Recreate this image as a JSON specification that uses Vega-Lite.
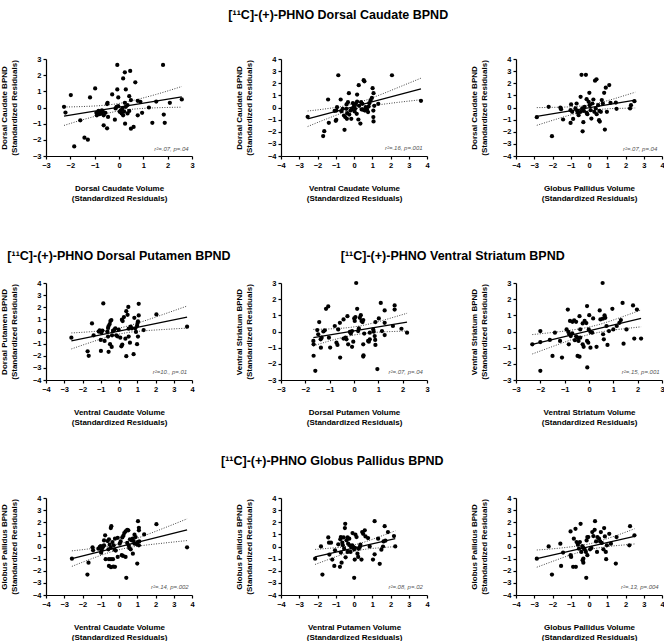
{
"$schema":"https://vega.github.io/schema/vega-lite/v6.json",
"padding":{"left":0,"top":8,"right":0,"bottom":0},
"config":{"view":{"stroke":null},"font":"Liberation Sans",
"axis":{"grid":false,"domainColor":"#000","tickColor":"#000","tickSize":3,"domainWidth":1.2,"tickWidth":1.2,"labelFont":"Liberation Sans","labelFontWeight":"bold","labelFontSize":7.5,"labelColor":"#000","labelPadding":2,"labelFlush":false,"labelOverlap":false,"titleFont":"Liberation Sans","titleFontWeight":"bold","titleFontSize":8,"titleColor":"#000","titleLineHeight":10},
"axisX":{"titlePadding":16},"axisY":{"titlePadding":14},
"title":{"font":"Liberation Sans","fontSize":12.5,"fontWeight":"bold","color":"#000","anchor":"middle"},
"concat":{"spacing":89}},
"datasets":{
"p1":[{"x":-2.26,"y":0.04},{"x":-2.2,"y":-0.31},{"x":-1.98,"y":0.77},{"x":-1.84,"y":-2.41},{"x":-1.59,"y":-0.79},{"x":-1.42,"y":-1.87},{"x":-1.28,"y":-1.99},{"x":-1.19,"y":0.62},{"x":-0.98,"y":1.18},{"x":-0.93,"y":-0.33},{"x":-0.84,"y":-0.21},{"x":-0.77,"y":-0.27},{"x":-0.73,"y":-0.37},{"x":-0.7,"y":-0.17},{"x":-0.66,"y":-0.27},{"x":-0.63,"y":-0.48},{"x":-0.91,"y":-0.48},{"x":-0.81,"y":-0.41},{"x":-0.56,"y":-0.33},{"x":-0.49,"y":0.21},{"x":-0.47,"y":0.29},{"x":-0.45,"y":-0.58},{"x":-0.63,"y":-1.1},{"x":-0.49,"y":-1.29},{"x":-0.28,"y":0.81},{"x":-0.17,"y":-0.75},{"x":-0.07,"y":2.63},{"x":-0.07,"y":1.12},{"x":-0.03,"y":0.62},{"x":-0.1,"y":0.04},{"x":-0.14,"y":-0.06},{"x":-0.03,"y":0.08},{"x":0.03,"y":-0.27},{"x":0.07,"y":-0.17},{"x":0.11,"y":-0.37},{"x":0.14,"y":-0.06},{"x":0.21,"y":-0.25},{"x":0.17,"y":-0.48},{"x":0.28,"y":0.04},{"x":0.35,"y":0.15},{"x":0.17,"y":1.8},{"x":0.24,"y":2.18},{"x":0.46,"y":2.26},{"x":0.28,"y":1.12},{"x":0.24,"y":0.29},{"x":0.42,"y":0.7},{"x":0.49,"y":0.46},{"x":0.25,"y":-1.0},{"x":0.35,"y":-0.37},{"x":0.42,"y":-0.21},{"x":0.49,"y":-1.31},{"x":0.6,"y":-1.2},{"x":0.67,"y":1.56},{"x":0.77,"y":-0.48},{"x":0.77,"y":0.41},{"x":0.88,"y":0.35},{"x":0.95,"y":-0.33},{"x":1.23,"y":0},{"x":1.37,"y":-0.95},{"x":1.53,"y":0.37},{"x":1.81,"y":2.63},{"x":1.84,"y":-0.44},{"x":1.88,"y":-0.95},{"x":2.09,"y":0.29},{"x":2.58,"y":0.5}],
"p2":[{"x":-2.54,"y":-0.77},{"x":-1.69,"y":-2.36},{"x":-1.63,"y":-1.95},{"x":-1.42,"y":0.66},{"x":-1.38,"y":-1.26},{"x":-1.06,"y":-0.27},{"x":-0.97,"y":-0.25},{"x":-0.97,"y":-1.01},{"x":-1.0,"y":-1.1},{"x":-0.93,"y":0.03},{"x":-0.86,"y":2.66},{"x":-0.73,"y":0.66},{"x":-0.69,"y":-0.3},{"x":-0.62,"y":-0.11},{"x":-0.55,"y":-0.66},{"x":-0.48,"y":-0.79},{"x":-0.52,"y":-1.84},{"x":-0.42,"y":-0.11},{"x":-0.41,"y":0.25},{"x":-0.33,"y":0.44},{"x":-0.28,"y":1.18},{"x":-0.37,"y":-0.47},{"x":-0.26,"y":-0.58},{"x":-0.19,"y":-0.25},{"x":-0.15,"y":-0.93},{"x":-0.39,"y":-0.93},{"x":-0.06,"y":0.36},{"x":-0.12,"y":-0.16},{"x":-0.01,"y":0.08},{"x":0.03,"y":-0.33},{"x":0.06,"y":-0.11},{"x":0.1,"y":0.3},{"x":0.15,"y":-0.52},{"x":0.17,"y":0.49},{"x":0.17,"y":1.07},{"x":0.24,"y":-0.99},{"x":0.28,"y":0.14},{"x":0.35,"y":-1.32},{"x":0.26,"y":1.84},{"x":0.53,"y":2.25},{"x":0.57,"y":2.16},{"x":0.39,"y":0.44},{"x":0.42,"y":-0.16},{"x":0.46,"y":0.3},{"x":0.51,"y":-0.19},{"x":0.6,"y":-0.25},{"x":0.64,"y":0.03},{"x":0.71,"y":-0.16},{"x":0.77,"y":-0.38},{"x":0.8,"y":0.08},{"x":0.84,"y":0.36},{"x":0.91,"y":0.58},{"x":0.98,"y":0.79},{"x":1.02,"y":1.59},{"x":1.07,"y":1.18},{"x":1.07,"y":-1.15},{"x":1.06,"y":-0.25},{"x":1.11,"y":0.14},{"x":1.06,"y":-0.79},{"x":1.33,"y":0.3},{"x":2.08,"y":2.66},{"x":3.67,"y":0.55}],
"p3":[{"x":-2.86,"y":-0.8},{"x":-2.21,"y":0.06},{"x":-2.03,"y":-2.37},{"x":-1.57,"y":0},{"x":-1.53,"y":-0.14},{"x":-1.42,"y":-0.99},{"x":-1.01,"y":-1.27},{"x":-0.98,"y":0.25},{"x":-1.01,"y":-0.22},{"x":-0.92,"y":-0.36},{"x":-0.87,"y":-0.94},{"x":-0.74,"y":-0.08},{"x":-0.65,"y":-0.28},{"x":-0.61,"y":-0.44},{"x":-0.68,"y":0.33},{"x":-0.57,"y":-0.63},{"x":-0.46,"y":0.88},{"x":-0.41,"y":2.7},{"x":-0.17,"y":2.7},{"x":-0.35,"y":-1.96},{"x":-0.31,"y":-1.21},{"x":-0.46,"y":-0.36},{"x":-0.37,"y":-0.08},{"x":-0.28,"y":-0.28},{"x":-0.24,"y":0.06},{"x":-0.13,"y":-0.44},{"x":-0.09,"y":-0.55},{"x":-0.13,"y":0.69},{"x":0.02,"y":1.21},{"x":-0.02,"y":0.47},{"x":0.04,"y":0.19},{"x":0.13,"y":-0.91},{"x":0.09,"y":-0.22},{"x":0.18,"y":0.33},{"x":0.24,"y":0.66},{"x":0.33,"y":2.21},{"x":0.41,"y":2.32},{"x":0.29,"y":-0.36},{"x":0.37,"y":-0.08},{"x":0.42,"y":-0.55},{"x":0.5,"y":0.19},{"x":0.57,"y":-0.28},{"x":0.55,"y":-1.05},{"x":0.59,"y":-1.16},{"x":0.65,"y":-0.36},{"x":0.7,"y":0.61},{"x":0.76,"y":0.33},{"x":0.83,"y":1.21},{"x":0.87,"y":-1.82},{"x":0.92,"y":1.63},{"x":0.98,"y":-0.36},{"x":1.11,"y":1.85},{"x":1.18,"y":0.39},{"x":1.47,"y":0.41},{"x":1.51,"y":-0.11},{"x":2.25,"y":-0.08},{"x":2.3,"y":0.19},{"x":2.49,"y":0.52}],
"p4":[{"x":-2.61,"y":-0.51},{"x":-1.72,"y":-1.63},{"x":-1.66,"y":-2.01},{"x":-1.48,"y":0.67},{"x":-1.39,"y":-0.31},{"x":-1.11,"y":-0.01},{"x":-1.06,"y":0.1},{"x":-0.97,"y":-0.1},{"x":-0.91,"y":0.07},{"x":-1.0,"y":-0.7},{"x":-0.99,"y":-1.6},{"x":-0.86,"y":2.31},{"x":-0.79,"y":-0.78},{"x":-0.64,"y":-0.01},{"x":-0.6,"y":0.29},{"x":-0.57,"y":0.45},{"x":-0.51,"y":0.61},{"x":-0.47,"y":0.86},{"x":-0.6,"y":-0.42},{"x":-0.57,"y":-1.68},{"x":-0.49,"y":-1.05},{"x":-0.4,"y":-1.27},{"x":-0.42,"y":0.94},{"x":-0.38,"y":-0.31},{"x":-0.33,"y":0.04},{"x":-0.26,"y":0.15},{"x":-0.2,"y":0.26},{"x":-0.15,"y":-0.31},{"x":-0.09,"y":-0.4},{"x":-0.02,"y":0.15},{"x":0.07,"y":-0.51},{"x":0.13,"y":-1.22},{"x":0.18,"y":-1.08},{"x":0.16,"y":0.97},{"x":0.2,"y":0.86},{"x":0.27,"y":1.19},{"x":0.35,"y":-0.59},{"x":0.4,"y":1.68},{"x":0.4,"y":-2.04},{"x":0.47,"y":1.38},{"x":0.51,"y":2.03},{"x":0.53,"y":0.23},{"x":0.53,"y":-0.42},{"x":0.6,"y":-0.92},{"x":0.64,"y":0.4},{"x":0.71,"y":0.26},{"x":0.8,"y":-1.87},{"x":0.89,"y":0.26},{"x":0.93,"y":-0.04},{"x":0.99,"y":0.48},{"x":1.02,"y":0.7},{"x":1.04,"y":0.83},{"x":1.08,"y":1.32},{"x":1.08,"y":2.28},{"x":1.04,"y":-0.42},{"x":0.99,"y":-1.05},{"x":0.84,"y":1.13},{"x":1.35,"y":0.12},{"x":2.05,"y":1.41},{"x":3.73,"y":0.4}],
"p5":[{"x":-1.67,"y":-0.58},{"x":-1.66,"y":-0.79},{"x":-1.66,"y":-1.5},{"x":-1.59,"y":-2.43},{"x":-1.51,"y":0.09},{"x":-1.47,"y":-0.17},{"x":-1.43,"y":0.58},{"x":-1.37,"y":-0.48},{"x":-1.33,"y":-0.38},{"x":-1.36,"y":-1.0},{"x":-1.26,"y":0},{"x":-1.2,"y":0.07},{"x":-1.15,"y":1.4},{"x":-1.06,"y":1.55},{"x":-1.03,"y":-0.38},{"x":-0.98,"y":-0.99},{"x":-0.79,"y":0.34},{"x":-0.72,"y":-0.69},{"x":-0.68,"y":-0.83},{"x":-0.65,"y":0.13},{"x":-0.58,"y":0.54},{"x":-0.57,"y":-1.61},{"x":-0.43,"y":0.75},{"x":-0.43,"y":-0.44},{"x":-0.35,"y":-0.38},{"x":-0.31,"y":-0.48},{"x":-0.27,"y":0.95},{"x":-0.24,"y":-0.79},{"x":-0.17,"y":-0.03},{"x":-0.13,"y":-0.13},{"x":-0.08,"y":0.03},{"x":-0.08,"y":-0.95},{"x":-0.03,"y":-0.63},{"x":0.01,"y":0.81},{"x":0.03,"y":0.65},{"x":0.06,"y":0.89},{"x":0.09,"y":3.0},{"x":0.13,"y":1.4},{"x":0.17,"y":0.03},{"x":0.2,"y":0.19},{"x":0.24,"y":0.85},{"x":0.28,"y":1.01},{"x":0.31,"y":0.65},{"x":0.35,"y":0.58},{"x":0.38,"y":0.71},{"x":0.38,"y":-0.79},{"x":0.39,"y":-1.47},{"x":0.38,"y":-1.55},{"x":0.42,"y":-0.13},{"x":0.58,"y":-0.58},{"x":0.65,"y":-0.48},{"x":0.61,"y":-0.63},{"x":0.65,"y":-0.07},{"x":0.79,"y":0.13},{"x":0.81,"y":-0.01},{"x":0.85,"y":-0.28},{"x":0.87,"y":-0.52},{"x":0.88,"y":-0.83},{"x":0.88,"y":0.58},{"x":0.96,"y":-2.32},{"x":1.02,"y":0.81},{"x":1.1,"y":1.77},{"x":1.15,"y":0.03},{"x":1.26,"y":1.3},{"x":1.26,"y":0.54},{"x":1.26,"y":-0.22},{"x":1.6,"y":0.34},{"x":1.67,"y":1.61},{"x":1.67,"y":1.36},{"x":1.95,"y":0.17},{"x":2.18,"y":-0.07}],
"p6":[{"x":-2.33,"y":-0.79},{"x":-2.0,"y":0.03},{"x":-2.0,"y":-0.65},{"x":-2.0,"y":-2.43},{"x":-1.61,"y":-0.52},{"x":-1.5,"y":-1.51},{"x":-1.4,"y":-0.07},{"x":-1.19,"y":-0.58},{"x":-1.11,"y":-1.61},{"x":-0.87,"y":1.36},{"x":-0.92,"y":0.13},{"x":-0.85,"y":-0.03},{"x":-0.81,"y":-0.17},{"x":-0.75,"y":-0.28},{"x":-0.69,"y":-0.11},{"x":-0.83,"y":-0.79},{"x":-0.78,"y":0.65},{"x":-0.68,"y":0.6},{"x":-0.61,"y":0.69},{"x":-0.53,"y":0.6},{"x":-0.58,"y":-0.54},{"x":-0.53,"y":-0.3},{"x":-0.46,"y":-0.38},{"x":-0.43,"y":-0.58},{"x":-0.36,"y":-0.38},{"x":-0.47,"y":-1.51},{"x":-0.39,"y":-1.56},{"x":-0.39,"y":0.95},{"x":-0.36,"y":0.13},{"x":-0.26,"y":0.5},{"x":-0.26,"y":-0.79},{"x":-0.22,"y":-0.95},{"x":-0.18,"y":0.65},{"x":-0.11,"y":0.52},{"x":-0.08,"y":1.57},{"x":-0.08,"y":-0.58},{"x":-0.03,"y":-0.69},{"x":-0.07,"y":-2.22},{"x":-0.01,"y":0.13},{"x":0.01,"y":1.01},{"x":0.06,"y":-0.03},{"x":0.13,"y":-0.07},{"x":0.17,"y":0.81},{"x":0.06,"y":-1.0},{"x":0.31,"y":-0.95},{"x":0.44,"y":1.3},{"x":0.47,"y":0.75},{"x":0.57,"y":0.79},{"x":0.56,"y":3.0},{"x":0.58,"y":-0.17},{"x":0.61,"y":-0.48},{"x":0.64,"y":1.0},{"x":0.67,"y":0.85},{"x":0.72,"y":0.34},{"x":0.76,"y":-0.83},{"x":0.82,"y":0.03},{"x":0.96,"y":1.4},{"x":1.0,"y":0.13},{"x":1.14,"y":0.34},{"x":1.25,"y":0.54},{"x":1.31,"y":0.71},{"x":1.38,"y":1.77},{"x":1.42,"y":-0.75},{"x":1.54,"y":0.13},{"x":1.81,"y":1.61},{"x":1.86,"y":-0.44},{"x":1.97,"y":1.36},{"x":2.14,"y":-0.44}],
"p7":[{"x":-2.58,"y":-1.0},{"x":-1.67,"y":-1.33},{"x":-1.73,"y":-2.31},{"x":-1.45,"y":-0.07},{"x":-1.42,"y":-0.31},{"x":-1.13,"y":-0.18},{"x":-1.05,"y":-0.04},{"x":-1.0,"y":0.04},{"x":-0.95,"y":-0.31},{"x":-0.98,"y":-0.51},{"x":-0.91,"y":-0.12},{"x":-0.85,"y":0.04},{"x":-0.82,"y":0.5},{"x":-0.82,"y":0.1},{"x":-0.76,"y":0.92},{"x":-0.73,"y":-1.05},{"x":-0.62,"y":0.45},{"x":-0.55,"y":0.59},{"x":-0.58,"y":-0.23},{"x":-0.55,"y":-1.05},{"x":-0.44,"y":-1.05},{"x":-0.33,"y":-1.05},{"x":-0.55,"y":-1.6},{"x":-0.44,"y":-1.71},{"x":-0.31,"y":-1.65},{"x":-0.22,"y":-1.68},{"x":-0.45,"y":1.52},{"x":-0.42,"y":1.68},{"x":-0.51,"y":0.15},{"x":-0.45,"y":-0.12},{"x":-0.36,"y":0.37},{"x":-0.29,"y":0.1},{"x":-0.25,"y":-0.26},{"x":-0.22,"y":0.64},{"x":-0.18,"y":-0.34},{"x":-0.07,"y":0.72},{"x":-0.07,"y":-0.86},{"x":0.04,"y":0.23},{"x":0.09,"y":0.42},{"x":0.15,"y":-0.72},{"x":0.22,"y":-0.78},{"x":0.18,"y":0.75},{"x":0.24,"y":0.89},{"x":0.29,"y":1.11},{"x":0.36,"y":1.24},{"x":0.45,"y":1.38},{"x":0.51,"y":1.33},{"x":0.36,"y":-0.86},{"x":0.4,"y":-2.58},{"x":0.45,"y":0.29},{"x":0.53,"y":0.1},{"x":0.56,"y":-0.12},{"x":0.6,"y":0.59},{"x":0.64,"y":-0.23},{"x":0.69,"y":0.51},{"x":0.75,"y":0.64},{"x":0.8,"y":0.45},{"x":0.85,"y":0.23},{"x":0.76,"y":-0.59},{"x":0.85,"y":0.97},{"x":0.91,"y":0.78},{"x":0.98,"y":0.18},{"x":1.02,"y":0.37},{"x":1.0,"y":-1.41},{"x":1.04,"y":2.09},{"x":1.09,"y":1.54},{"x":1.09,"y":1.33},{"x":1.11,"y":0.42},{"x":1.09,"y":0.1},{"x":1.38,"y":1.0},{"x":2.05,"y":1.84},{"x":3.73,"y":-0.07}],
"p8":[{"x":-2.13,"y":-1.0},{"x":-1.81,"y":0.01},{"x":-1.73,"y":-2.31},{"x":-1.41,"y":0.75},{"x":-1.37,"y":0.31},{"x":-1.26,"y":0.31},{"x":-1.35,"y":-0.67},{"x":-1.19,"y":-1.08},{"x":-1.08,"y":-1.6},{"x":-1.04,"y":-0.31},{"x":-0.86,"y":0.18},{"x":-0.77,"y":-1.68},{"x":-0.75,"y":0.59},{"x":-0.72,"y":0.78},{"x":-0.72,"y":-0.5},{"x":-0.68,"y":-1.33},{"x":-0.64,"y":0.31},{"x":-0.61,"y":0.1},{"x":-0.57,"y":0.75},{"x":-0.54,"y":-0.18},{"x":-0.5,"y":1.52},{"x":-0.48,"y":1.87},{"x":-0.46,"y":-0.89},{"x":-0.41,"y":0.51},{"x":-0.35,"y":0.75},{"x":-0.35,"y":-0.45},{"x":-0.32,"y":0.23},{"x":-0.26,"y":0.64},{"x":-0.23,"y":0.1},{"x":-0.19,"y":-0.45},{"x":-0.14,"y":-0.07},{"x":-0.1,"y":0.1},{"x":-0.08,"y":1.11},{"x":-0.05,"y":-0.04},{"x":0.01,"y":-0.23},{"x":0.05,"y":-0.12},{"x":0.01,"y":-2.58},{"x":0.04,"y":-1.08},{"x":0.08,"y":0.97},{"x":0.14,"y":0.78},{"x":0.19,"y":-0.59},{"x":0.23,"y":-0.86},{"x":0.26,"y":-0.18},{"x":0.32,"y":-0.04},{"x":0.35,"y":0.15},{"x":0.41,"y":-1.08},{"x":0.45,"y":1.19},{"x":0.5,"y":1.05},{"x":0.59,"y":1.33},{"x":0.63,"y":0.83},{"x":0.77,"y":0.7},{"x":0.86,"y":0.01},{"x":1.04,"y":-1.08},{"x":1.13,"y":-0.64},{"x":1.13,"y":2.09},{"x":1.32,"y":0.64},{"x":1.41,"y":-1.43},{"x":1.5,"y":-0.26},{"x":1.59,"y":0},{"x":1.62,"y":0.42},{"x":1.68,"y":1.68},{"x":1.72,"y":0.48},{"x":1.86,"y":1.19},{"x":2.19,"y":0.86},{"x":2.26,"y":0.01}],
"p9":[{"x":-2.86,"y":-1.0},{"x":-2.21,"y":0.01},{"x":-2.03,"y":-2.31},{"x":-1.57,"y":0.23},{"x":-1.53,"y":-1.6},{"x":-1.42,"y":-0.5},{"x":-1.01,"y":1.24},{"x":-1.01,"y":-0.72},{"x":-0.98,"y":-0.86},{"x":-0.87,"y":-1.68},{"x":-0.72,"y":-1.68},{"x":-0.83,"y":0.64},{"x":-0.74,"y":1.46},{"x":-0.68,"y":0.37},{"x":-0.61,"y":0.15},{"x":-0.55,"y":-0.18},{"x":-0.5,"y":0.37},{"x":-0.46,"y":1.87},{"x":-0.42,"y":-0.45},{"x":-0.37,"y":0.04},{"x":-0.31,"y":-0.12},{"x":-0.31,"y":-1.0},{"x":-0.35,"y":-1.13},{"x":-0.31,"y":-1.33},{"x":-0.24,"y":-0.23},{"x":-0.17,"y":-0.45},{"x":-0.13,"y":0.5},{"x":-0.09,"y":0.78},{"x":-0.04,"y":0.78},{"x":-0.09,"y":-0.72},{"x":-0.15,"y":-2.58},{"x":0.06,"y":-0.23},{"x":0.13,"y":-0.12},{"x":0.18,"y":1.19},{"x":0.24,"y":0.86},{"x":0.31,"y":1.38},{"x":0.33,"y":2.09},{"x":0.39,"y":0.42},{"x":0.44,"y":-0.45},{"x":0.46,"y":0.78},{"x":0.55,"y":0.64},{"x":0.61,"y":0.42},{"x":0.65,"y":1.19},{"x":0.7,"y":0.29},{"x":0.79,"y":-0.23},{"x":0.83,"y":1.52},{"x":0.87,"y":0.83},{"x":0.92,"y":-0.45},{"x":0.94,"y":-1.05},{"x":0.98,"y":0.1},{"x":1.11,"y":1.05},{"x":1.2,"y":0.23},{"x":1.47,"y":-1.41},{"x":1.51,"y":0.78},{"x":2.25,"y":1.68},{"x":2.21,"y":0.1},{"x":2.49,"y":0.92}],
"lines":[
{"p":1,"k":"fit","x":-2.26,"y":-0.54},{"p":1,"k":"fit","x":2.58,"y":0.66},
{"p":1,"k":"hi","x":-2.26,"y":0.03},{"p":1,"k":"hi","x":-1.5,"y":0.06},{"p":1,"k":"hi","x":-0.75,"y":0.12},{"p":1,"k":"hi","x":0,"y":0.25},{"p":1,"k":"hi","x":0.75,"y":0.5},{"p":1,"k":"hi","x":1.5,"y":0.8},{"p":1,"k":"hi","x":2.58,"y":1.3},
{"p":1,"k":"lo","x":-2.26,"y":-1.11},{"p":1,"k":"lo","x":-1.5,"y":-0.76},{"p":1,"k":"lo","x":-0.75,"y":-0.46},{"p":1,"k":"lo","x":0,"y":-0.21},{"p":1,"k":"lo","x":0.75,"y":-0.08},{"p":1,"k":"lo","x":1.5,"y":-0.02},{"p":1,"k":"lo","x":2.58,"y":0.02},
{"p":2,"k":"fit","x":-2.54,"y":-0.93},{"p":2,"k":"fit","x":3.67,"y":1.53},
{"p":2,"k":"hi","x":-2.54,"y":-0.29},{"p":2,"k":"hi","x":-1.5,"y":-0.1},{"p":2,"k":"hi","x":-0.5,"y":0.14},{"p":2,"k":"hi","x":0.5,"y":0.53},{"p":2,"k":"hi","x":1.5,"y":1.09},{"p":2,"k":"hi","x":2.5,"y":1.7},{"p":2,"k":"hi","x":3.67,"y":2.42},
{"p":2,"k":"lo","x":-2.54,"y":-1.57},{"p":2,"k":"lo","x":-1.5,"y":-0.94},{"p":2,"k":"lo","x":-0.5,"y":-0.38},{"p":2,"k":"lo","x":0.5,"y":0.01},{"p":2,"k":"lo","x":1.5,"y":0.25},{"p":2,"k":"lo","x":2.5,"y":0.44},{"p":2,"k":"lo","x":3.67,"y":0.64},
{"p":3,"k":"fit","x":-2.86,"y":-0.74},{"p":3,"k":"fit","x":2.53,"y":0.61},
{"p":3,"k":"hi","x":-2.86,"y":-0.01},{"p":3,"k":"hi","x":-2,"y":0.01},{"p":3,"k":"hi","x":-1,"y":0.06},{"p":3,"k":"hi","x":0,"y":0.21},{"p":3,"k":"hi","x":1,"y":0.56},{"p":3,"k":"hi","x":2,"y":1.01},{"p":3,"k":"hi","x":2.53,"y":1.26},
{"p":3,"k":"lo","x":-2.86,"y":-1.47},{"p":3,"k":"lo","x":-2,"y":-1.06},{"p":3,"k":"lo","x":-1,"y":-0.61},{"p":3,"k":"lo","x":0,"y":-0.27},{"p":3,"k":"lo","x":1,"y":-0.11},{"p":3,"k":"lo","x":2,"y":-0.06},{"p":3,"k":"lo","x":2.53,"y":-0.04},
{"p":4,"k":"fit","x":-2.61,"y":-0.78},{"p":4,"k":"fit","x":3.73,"y":1.19},
{"p":4,"k":"hi","x":-2.61,"y":-0.12},{"p":4,"k":"hi","x":-1.5,"y":-0.01},{"p":4,"k":"hi","x":-0.5,"y":0.14},{"p":4,"k":"hi","x":0.5,"y":0.46},{"p":4,"k":"hi","x":1.5,"y":0.93},{"p":4,"k":"hi","x":2.5,"y":1.45},{"p":4,"k":"hi","x":3.73,"y":2.1},
{"p":4,"k":"lo","x":-2.61,"y":-1.44},{"p":4,"k":"lo","x":-1.5,"y":-0.87},{"p":4,"k":"lo","x":-0.5,"y":-0.39},{"p":4,"k":"lo","x":0.5,"y":-0.08},{"p":4,"k":"lo","x":1.5,"y":0.07},{"p":4,"k":"lo","x":2.5,"y":0.17},{"p":4,"k":"lo","x":3.73,"y":0.28},
{"p":5,"k":"fit","x":-1.67,"y":-0.38},{"p":5,"k":"fit","x":2.18,"y":0.58},
{"p":5,"k":"hi","x":-1.67,"y":0.13},{"p":5,"k":"hi","x":-1,"y":0.16},{"p":5,"k":"hi","x":-0.3,"y":0.23},{"p":5,"k":"hi","x":0.3,"y":0.36},{"p":5,"k":"hi","x":1,"y":0.61},{"p":5,"k":"hi","x":1.6,"y":0.87},{"p":5,"k":"hi","x":2.18,"y":1.13},
{"p":5,"k":"lo","x":-1.67,"y":-0.89},{"p":5,"k":"lo","x":-1,"y":-0.58},{"p":5,"k":"lo","x":-0.3,"y":-0.31},{"p":5,"k":"lo","x":0.3,"y":-0.14},{"p":5,"k":"lo","x":1,"y":-0.04},{"p":5,"k":"lo","x":1.6,"y":0.0},{"p":5,"k":"lo","x":2.18,"y":0.03},
{"p":6,"k":"fit","x":-2.33,"y":-0.79},{"p":6,"k":"fit","x":2.14,"y":0.81},
{"p":6,"k":"hi","x":-2.33,"y":-0.19},{"p":6,"k":"hi","x":-1.5,"y":-0.06},{"p":6,"k":"hi","x":-0.7,"y":0.09},{"p":6,"k":"hi","x":0.1,"y":0.31},{"p":6,"k":"hi","x":0.8,"y":0.61},{"p":6,"k":"hi","x":1.5,"y":0.98},{"p":6,"k":"hi","x":2.14,"y":1.33},
{"p":6,"k":"lo","x":-2.33,"y":-1.39},{"p":6,"k":"lo","x":-1.5,"y":-0.93},{"p":6,"k":"lo","x":-0.7,"y":-0.5},{"p":6,"k":"lo","x":0.1,"y":-0.15},{"p":6,"k":"lo","x":0.8,"y":0.05},{"p":6,"k":"lo","x":1.5,"y":0.18},{"p":6,"k":"lo","x":2.14,"y":0.29},
{"p":7,"k":"fit","x":-2.58,"y":-1.0},{"p":7,"k":"fit","x":3.73,"y":1.38},
{"p":7,"k":"hi","x":-2.58,"y":-0.36},{"p":7,"k":"hi","x":-1.5,"y":-0.17},{"p":7,"k":"hi","x":-0.5,"y":0.04},{"p":7,"k":"hi","x":0.5,"y":0.42},{"p":7,"k":"hi","x":1.5,"y":0.96},{"p":7,"k":"hi","x":2.5,"y":1.54},{"p":7,"k":"hi","x":3.73,"y":2.28},
{"p":7,"k":"lo","x":-2.58,"y":-1.64},{"p":7,"k":"lo","x":-1.5,"y":-1.01},{"p":7,"k":"lo","x":-0.5,"y":-0.48},{"p":7,"k":"lo","x":0.5,"y":-0.1},{"p":7,"k":"lo","x":1.5,"y":0.12},{"p":7,"k":"lo","x":2.5,"y":0.29},{"p":7,"k":"lo","x":3.73,"y":0.49},
{"p":8,"k":"fit","x":-2.13,"y":-0.86},{"p":8,"k":"fit","x":2.26,"y":0.64},
{"p":8,"k":"hi","x":-2.13,"y":-0.24},{"p":8,"k":"hi","x":-1.4,"y":-0.15},{"p":8,"k":"hi","x":-0.7,"y":-0.05},{"p":8,"k":"hi","x":0,"y":0.13},{"p":8,"k":"hi","x":0.7,"y":0.43},{"p":8,"k":"hi","x":1.4,"y":0.81},{"p":8,"k":"hi","x":2.26,"y":1.29},
{"p":8,"k":"lo","x":-2.13,"y":-1.48},{"p":8,"k":"lo","x":-1.4,"y":-1.07},{"p":8,"k":"lo","x":-0.7,"y":-0.69},{"p":8,"k":"lo","x":0,"y":-0.4},{"p":8,"k":"lo","x":0.7,"y":-0.21},{"p":8,"k":"lo","x":1.4,"y":-0.11},{"p":8,"k":"lo","x":2.26,"y":-0.01},
{"p":9,"k":"fit","x":-2.86,"y":-1.0},{"p":9,"k":"fit","x":2.49,"y":0.83},
{"p":9,"k":"hi","x":-2.86,"y":-0.29},{"p":9,"k":"hi","x":-2,"y":-0.19},{"p":9,"k":"hi","x":-1,"y":-0.03},{"p":9,"k":"hi","x":0,"y":0.21},{"p":9,"k":"hi","x":1,"y":0.65},{"p":9,"k":"hi","x":2,"y":1.18},{"p":9,"k":"hi","x":2.49,"y":1.46},
{"p":9,"k":"lo","x":-2.86,"y":-1.71},{"p":9,"k":"lo","x":-2,"y":-1.23},{"p":9,"k":"lo","x":-1,"y":-0.69},{"p":9,"k":"lo","x":0,"y":-0.26},{"p":9,"k":"lo","x":1,"y":-0.01},{"p":9,"k":"lo","x":2,"y":0.14},{"p":9,"k":"lo","x":2.49,"y":0.21}],
"notes":[{"p":1,"x":2.86,"y":-2.55,"t":"r²=.07, p=.04"},{"p":2,"x":3.76,"y":-3.34,"t":"r²=.16, p=.001"},{"p":3,"x":3.74,"y":-3.4,"t":"r²=.07, p=.04"},{"p":4,"x":3.73,"y":-3.37,"t":"r²=10., p=.01"},{"p":5,"x":2.83,"y":-2.49,"t":"r²=.07, p=.04"},{"p":6,"x":2.9,"y":-2.49,"t":"r²=.15, p=.001"},{"p":7,"x":3.82,"y":-3.37,"t":"r²=.14, p=.002"},{"p":8,"x":3.77,"y":-3.37,"t":"r²=.08, p=.02"},{"p":9,"x":3.82,"y":-3.37,"t":"r²=.13, p=.004"}]
},
"spacing":46,
"vconcat":[
{"title":{"text":"[¹¹C]-(+)-PHNO Dorsal Caudate BPND","offset":34,"dx":6},
 "bounds":"flush",
 "hconcat":[
 {"width":146,"height":97,
  "encoding":{"x":{"field":"x","type":"quantitative","scale":{"domain":[-3,3],"nice":false,"zero":false},"axis":{"values":[-3,-2,-1,0,1,2,3],"title":["Dorsal Caudate Volume","(Standardized Residuals)"]}},"y":{"field":"y","type":"quantitative","scale":{"domain":[-3,3],"nice":false,"zero":false},"axis":{"values":[-3,-2,-1,0,1,2,3],"title":["Dorsal Caudate BPND","(Standardized Residuals)"]}}},
  "layer":[
   {"data":{"name":"lines"},"transform":[{"filter":"datum.p==1 && datum.k!='fit'"}],"mark":{"type":"line","interpolate":"monotone","strokeDash":[1,1.5],"strokeWidth":1,"color":"#444"},"encoding":{"detail":{"field":"k"}}},
   {"data":{"name":"lines"},"transform":[{"filter":"datum.p==1 && datum.k=='fit'"}],"mark":{"type":"line","strokeWidth":1.3,"color":"#000"},"encoding":{}},
   {"data":{"name":"p1"},"mark":{"type":"circle","size":18,"color":"#000","opacity":1}},
   {"data":{"name":"notes"},"transform":[{"filter":"datum.p==1"}],"mark":{"type":"text","align":"right","fontSize":6,"color":"#555","fontStyle":"italic"},"encoding":{"text":{"field":"t"}}}
  ]},
 {"width":146,"height":97,
  "encoding":{"x":{"field":"x","type":"quantitative","scale":{"domain":[-4,4],"nice":false,"zero":false},"axis":{"values":[-4,-3,-2,-1,0,1,2,3,4],"title":["Ventral Caudate Volume","(Standardized Residuals)"]}},"y":{"field":"y","type":"quantitative","scale":{"domain":[-4,4],"nice":false,"zero":false},"axis":{"values":[-4,-3,-2,-1,0,1,2,3,4],"title":["Dorsal Caudate BPND","(Standardized Residuals)"]}}},
  "layer":[
   {"data":{"name":"lines"},"transform":[{"filter":"datum.p==2 && datum.k!='fit'"}],"mark":{"type":"line","interpolate":"monotone","strokeDash":[1,1.5],"strokeWidth":1,"color":"#444"},"encoding":{"detail":{"field":"k"}}},
   {"data":{"name":"lines"},"transform":[{"filter":"datum.p==2 && datum.k=='fit'"}],"mark":{"type":"line","strokeWidth":1.3,"color":"#000"},"encoding":{}},
   {"data":{"name":"p2"},"mark":{"type":"circle","size":18,"color":"#000","opacity":1}},
   {"data":{"name":"notes"},"transform":[{"filter":"datum.p==2"}],"mark":{"type":"text","align":"right","fontSize":6,"color":"#555","fontStyle":"italic"},"encoding":{"text":{"field":"t"}}}
  ]},
 {"width":146,"height":97,
  "encoding":{"x":{"field":"x","type":"quantitative","scale":{"domain":[-4,4],"nice":false,"zero":false},"axis":{"values":[-4,-3,-2,-1,0,1,2,3,4],"title":["Globus Pallidus Volume","(Standardized Residuals)"]}},"y":{"field":"y","type":"quantitative","scale":{"domain":[-4,4],"nice":false,"zero":false},"axis":{"values":[-4,-3,-2,-1,0,1,2,3,4],"title":["Dorsal Caudate BPND","(Standardized Residuals)"]}}},
  "layer":[
   {"data":{"name":"lines"},"transform":[{"filter":"datum.p==3 && datum.k!='fit'"}],"mark":{"type":"line","interpolate":"monotone","strokeDash":[1,1.5],"strokeWidth":1,"color":"#444"},"encoding":{"detail":{"field":"k"}}},
   {"data":{"name":"lines"},"transform":[{"filter":"datum.p==3 && datum.k=='fit'"}],"mark":{"type":"line","strokeWidth":1.3,"color":"#000"},"encoding":{}},
   {"data":{"name":"p3"},"mark":{"type":"circle","size":18,"color":"#000","opacity":1}},
   {"data":{"name":"notes"},"transform":[{"filter":"datum.p==3"}],"mark":{"type":"text","align":"right","fontSize":6,"color":"#555","fontStyle":"italic"},"encoding":{"text":{"field":"t"}}}
  ]}
 ]},
{"spacing":27,"vconcat":[
{"bounds":"flush","hconcat":[
 {"title":{"text":"[¹¹C]-(+)-PHNO Dorsal Putamen BPND","offset":17},
  "width":146,"height":97,
  "encoding":{"x":{"field":"x","type":"quantitative","scale":{"domain":[-4,4],"nice":false,"zero":false},"axis":{"values":[-4,-3,-2,-1,0,1,2,3,4],"title":["Ventral Caudate Volume","(Standardized Residuals)"]}},"y":{"field":"y","type":"quantitative","scale":{"domain":[-4,4],"nice":false,"zero":false},"axis":{"values":[-4,-3,-2,-1,0,1,2,3,4],"title":["Dorsal Putamen BPND","(Standardized Residuals)"]}}},
  "layer":[
   {"data":{"name":"lines"},"transform":[{"filter":"datum.p==4 && datum.k!='fit'"}],"mark":{"type":"line","interpolate":"monotone","strokeDash":[1,1.5],"strokeWidth":1,"color":"#444"},"encoding":{"detail":{"field":"k"}}},
   {"data":{"name":"lines"},"transform":[{"filter":"datum.p==4 && datum.k=='fit'"}],"mark":{"type":"line","strokeWidth":1.3,"color":"#000"},"encoding":{}},
   {"data":{"name":"p4"},"mark":{"type":"circle","size":18,"color":"#000","opacity":1}},
   {"data":{"name":"notes"},"transform":[{"filter":"datum.p==4"}],"mark":{"type":"text","align":"right","fontSize":6,"color":"#555","fontStyle":"italic"},"encoding":{"text":{"field":"t"}}}
  ]},
 {"title":{"text":"[¹¹C]-(+)-PHNO Ventral Striatum BPND","offset":17,"dx":3},
  "bounds":"flush","spacing":89,
  "hconcat":[
  {"width":146,"height":97,
   "encoding":{"x":{"field":"x","type":"quantitative","scale":{"domain":[-3,3],"nice":false,"zero":false},"axis":{"values":[-3,-2,-1,0,1,2,3],"title":["Dorsal Putamen Volume","(Standardized  Residuals)"]}},"y":{"field":"y","type":"quantitative","scale":{"domain":[-3,3],"nice":false,"zero":false},"axis":{"values":[-3,-2,-1,0,1,2,3],"title":["Ventral Striatum BPND","(Standardized Residuals)"]}}},
   "layer":[
    {"data":{"name":"lines"},"transform":[{"filter":"datum.p==5 && datum.k!='fit'"}],"mark":{"type":"line","interpolate":"monotone","strokeDash":[1,1.5],"strokeWidth":1,"color":"#444"},"encoding":{"detail":{"field":"k"}}},
    {"data":{"name":"lines"},"transform":[{"filter":"datum.p==5 && datum.k=='fit'"}],"mark":{"type":"line","strokeWidth":1.3,"color":"#000"},"encoding":{}},
    {"data":{"name":"p5"},"mark":{"type":"circle","size":18,"color":"#000","opacity":1}},
    {"data":{"name":"notes"},"transform":[{"filter":"datum.p==5"}],"mark":{"type":"text","align":"right","fontSize":6,"color":"#555","fontStyle":"italic"},"encoding":{"text":{"field":"t"}}}
   ]},
  {"width":146,"height":97,
   "encoding":{"x":{"field":"x","type":"quantitative","scale":{"domain":[-3,3],"nice":false,"zero":false},"axis":{"values":[-3,-2,-1,0,1,2,3],"title":["Ventral Striatum Volume","(Standardized  Residuals)"]}},"y":{"field":"y","type":"quantitative","scale":{"domain":[-3,3],"nice":false,"zero":false},"axis":{"values":[-3,-2,-1,0,1,2,3],"title":["Ventral Striatum BPND","(Standardized Residuals)"]}}},
   "layer":[
    {"data":{"name":"lines"},"transform":[{"filter":"datum.p==6 && datum.k!='fit'"}],"mark":{"type":"line","interpolate":"monotone","strokeDash":[1,1.5],"strokeWidth":1,"color":"#444"},"encoding":{"detail":{"field":"k"}}},
    {"data":{"name":"lines"},"transform":[{"filter":"datum.p==6 && datum.k=='fit'"}],"mark":{"type":"line","strokeWidth":1.3,"color":"#000"},"encoding":{}},
    {"data":{"name":"p6"},"mark":{"type":"circle","size":18,"color":"#000","opacity":1}},
    {"data":{"name":"notes"},"transform":[{"filter":"datum.p==6"}],"mark":{"type":"text","align":"right","fontSize":6,"color":"#555","fontStyle":"italic"},"encoding":{"text":{"field":"t"}}}
   ]}
  ]}
]},
{"title":{"text":"[¹¹C]-(+)-PHNO Globus Pallidus BPND","offset":27},
 "bounds":"flush",
 "hconcat":[
 {"width":146,"height":97,
  "encoding":{"x":{"field":"x","type":"quantitative","scale":{"domain":[-4,4],"nice":false,"zero":false},"axis":{"values":[-4,-3,-2,-1,0,1,2,3,4],"title":["Ventral Caudate Volume","(Standardized Residuals)"]}},"y":{"field":"y","type":"quantitative","scale":{"domain":[-4,4],"nice":false,"zero":false},"axis":{"values":[-4,-3,-2,-1,0,1,2,3,4],"title":["Globus Pallidus BPND","(Standardized Residuals)"]}}},
  "layer":[
   {"data":{"name":"lines"},"transform":[{"filter":"datum.p==7 && datum.k!='fit'"}],"mark":{"type":"line","interpolate":"monotone","strokeDash":[1,1.5],"strokeWidth":1,"color":"#444"},"encoding":{"detail":{"field":"k"}}},
   {"data":{"name":"lines"},"transform":[{"filter":"datum.p==7 && datum.k=='fit'"}],"mark":{"type":"line","strokeWidth":1.3,"color":"#000"},"encoding":{}},
   {"data":{"name":"p7"},"mark":{"type":"circle","size":18,"color":"#000","opacity":1}},
   {"data":{"name":"notes"},"transform":[{"filter":"datum.p==7"}],"mark":{"type":"text","align":"right","fontSize":6,"color":"#555","fontStyle":"italic"},"encoding":{"text":{"field":"t"}}}
  ]},
 {"width":146,"height":97,
  "encoding":{"x":{"field":"x","type":"quantitative","scale":{"domain":[-4,4],"nice":false,"zero":false},"axis":{"values":[-4,-3,-2,-1,0,1,2,3,4],"title":["Ventral Putamen Volume","(Standardized Residuals)"]}},"y":{"field":"y","type":"quantitative","scale":{"domain":[-4,4],"nice":false,"zero":false},"axis":{"values":[-4,-3,-2,-1,0,1,2,3,4],"title":["Globus Pallidus BPND","(Standardized Residuals)"]}}},
  "layer":[
   {"data":{"name":"lines"},"transform":[{"filter":"datum.p==8 && datum.k!='fit'"}],"mark":{"type":"line","interpolate":"monotone","strokeDash":[1,1.5],"strokeWidth":1,"color":"#444"},"encoding":{"detail":{"field":"k"}}},
   {"data":{"name":"lines"},"transform":[{"filter":"datum.p==8 && datum.k=='fit'"}],"mark":{"type":"line","strokeWidth":1.3,"color":"#000"},"encoding":{}},
   {"data":{"name":"p8"},"mark":{"type":"circle","size":18,"color":"#000","opacity":1}},
   {"data":{"name":"notes"},"transform":[{"filter":"datum.p==8"}],"mark":{"type":"text","align":"right","fontSize":6,"color":"#555","fontStyle":"italic"},"encoding":{"text":{"field":"t"}}}
  ]},
 {"width":146,"height":97,
  "encoding":{"x":{"field":"x","type":"quantitative","scale":{"domain":[-4,4],"nice":false,"zero":false},"axis":{"values":[-4,-3,-2,-1,0,1,2,3,4],"title":["Globus Pallidus Volume","(Standardized Residuals)"]}},"y":{"field":"y","type":"quantitative","scale":{"domain":[-4,4],"nice":false,"zero":false},"axis":{"values":[-4,-3,-2,-1,0,1,2,3,4],"title":["Globus Pallidus BPND","(Standardized Residuals)"]}}},
  "layer":[
   {"data":{"name":"lines"},"transform":[{"filter":"datum.p==9 && datum.k!='fit'"}],"mark":{"type":"line","interpolate":"monotone","strokeDash":[1,1.5],"strokeWidth":1,"color":"#444"},"encoding":{"detail":{"field":"k"}}},
   {"data":{"name":"lines"},"transform":[{"filter":"datum.p==9 && datum.k=='fit'"}],"mark":{"type":"line","strokeWidth":1.3,"color":"#000"},"encoding":{}},
   {"data":{"name":"p9"},"mark":{"type":"circle","size":18,"color":"#000","opacity":1}},
   {"data":{"name":"notes"},"transform":[{"filter":"datum.p==9"}],"mark":{"type":"text","align":"right","fontSize":6,"color":"#555","fontStyle":"italic"},"encoding":{"text":{"field":"t"}}}
  ]}
 ]}
]}
]
}
